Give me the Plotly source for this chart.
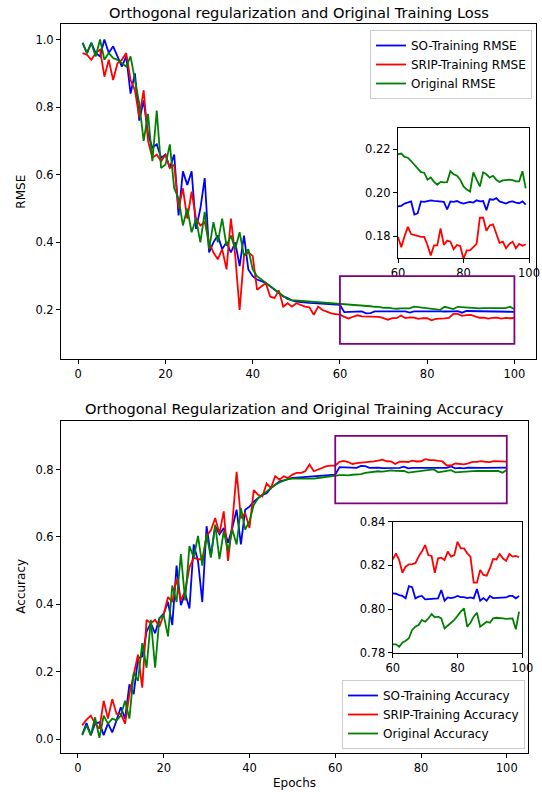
import plotly.graph_objects as go

# ---------------- data ----------------
epochs = list(range(1, 101))

so_rmse = [0.99, 0.96, 0.99, 0.96, 0.95, 1.00, 0.96, 0.98, 0.95, 0.92,
           0.95, 0.84, 0.90, 0.76, 0.82, 0.72, 0.68, 0.69, 0.65, 0.66,
           0.62, 0.66, 0.48, 0.61, 0.57, 0.61, 0.44, 0.50, 0.59, 0.37,
           0.40, 0.42, 0.38, 0.40, 0.37, 0.40, 0.33, 0.42, 0.32, 0.30,
           0.29, 0.285, 0.28, 0.27, 0.26, 0.25, 0.24, 0.235, 0.228, 0.225,
           0.223, 0.222, 0.221, 0.220, 0.219, 0.218, 0.217, 0.217, 0.216, 0.215,
           0.1937, 0.194, 0.195, 0.1955, 0.196, 0.190, 0.1905, 0.196, 0.1958, 0.1962,
           0.1965, 0.1963, 0.1962, 0.196, 0.1958, 0.1924, 0.196, 0.1958, 0.1962, 0.1955,
           0.195, 0.1955, 0.1958, 0.1955, 0.1965, 0.196, 0.1962, 0.192, 0.197, 0.1968,
           0.1975, 0.196, 0.1955, 0.195, 0.1958, 0.196, 0.1955, 0.1952, 0.196, 0.1945]

srip_rmse = [0.96, 0.955, 0.94, 0.96, 0.97, 0.89, 0.94, 0.88, 0.93, 0.94,
             0.96, 0.88, 0.85, 0.77, 0.85, 0.70, 0.65, 0.66, 0.64, 0.66,
             0.62, 0.63, 0.50, 0.56, 0.47, 0.55, 0.47, 0.45, 0.46, 0.40,
             0.37, 0.35, 0.38, 0.32, 0.47, 0.36, 0.20, 0.36, 0.37, 0.36,
             0.26, 0.27, 0.28, 0.24, 0.235, 0.258, 0.21, 0.22, 0.21, 0.22,
             0.215, 0.21, 0.208, 0.186, 0.21, 0.20, 0.195, 0.19, 0.188, 0.186,
             0.1797, 0.175, 0.180, 0.1843, 0.181, 0.1805, 0.180, 0.1797, 0.1797, 0.176,
             0.1712, 0.1758, 0.1758, 0.1836, 0.176, 0.178, 0.1775, 0.174, 0.176, 0.1755,
             0.1696, 0.1735, 0.1735, 0.175, 0.1765, 0.1885, 0.1885, 0.1825, 0.185, 0.1855,
             0.181, 0.177, 0.1775, 0.1745, 0.1765, 0.1775, 0.1745, 0.1765, 0.1756, 0.1763]

orig_rmse = [0.99, 0.96, 0.99, 0.95, 1.00, 0.94, 0.96, 0.945, 0.94, 0.93,
             0.92, 0.95, 0.88, 0.81, 0.70, 0.78, 0.64, 0.79, 0.62, 0.63,
             0.69, 0.56, 0.53, 0.45, 0.50, 0.43, 0.47, 0.40, 0.49, 0.38,
             0.46, 0.40, 0.47, 0.39, 0.42, 0.38, 0.43, 0.36, 0.38, 0.32,
             0.30, 0.29, 0.28, 0.27, 0.26, 0.25, 0.24, 0.232, 0.229, 0.228,
             0.228, 0.228, 0.227, 0.226, 0.225, 0.224, 0.223, 0.222, 0.221, 0.220,
             0.2177, 0.218, 0.2165, 0.2161, 0.2146, 0.213, 0.211, 0.2095, 0.2092, 0.206,
             0.207, 0.205, 0.2037, 0.205, 0.2048, 0.2049, 0.2099, 0.2085, 0.2078, 0.206,
             0.2029, 0.2015, 0.2006, 0.2094, 0.206, 0.2029, 0.2094, 0.2085, 0.207, 0.2078,
             0.206, 0.205, 0.2057, 0.206, 0.206, 0.2058, 0.2052, 0.2052, 0.2099, 0.202]

so_acc = [0.014, 0.048, 0.012, 0.047, 0.05, 0.012, 0.047, 0.02, 0.056, 0.095,
          0.061, 0.163, 0.134, 0.24, 0.246, 0.319, 0.344, 0.314, 0.359, 0.373,
          0.407, 0.339, 0.515, 0.398, 0.432, 0.388, 0.578, 0.529, 0.407, 0.632,
          0.544, 0.632, 0.608, 0.627, 0.583, 0.627, 0.681, 0.578, 0.681, 0.69,
          0.705, 0.715, 0.725, 0.73, 0.745, 0.755, 0.765, 0.768, 0.772, 0.775,
          0.776, 0.777, 0.777, 0.778, 0.779, 0.780, 0.781, 0.782, 0.783, 0.785,
          0.8072, 0.807, 0.8064, 0.806, 0.8049, 0.8105, 0.810, 0.8049, 0.8057, 0.806,
          0.8044, 0.8045, 0.8045, 0.8047, 0.8049, 0.8087, 0.8038, 0.8053, 0.805, 0.8053,
          0.806, 0.8055, 0.8055, 0.805, 0.8053, 0.8049, 0.8092, 0.8038, 0.805, 0.8038,
          0.806, 0.805, 0.805, 0.805, 0.8053, 0.8053, 0.806, 0.806, 0.8049, 0.806]

srip_acc = [0.041, 0.058, 0.07, 0.047, 0.031, 0.114, 0.061, 0.119, 0.075, 0.075,
            0.046, 0.134, 0.192, 0.251, 0.153, 0.354, 0.344, 0.354, 0.334, 0.37,
            0.422, 0.407, 0.476, 0.412, 0.44, 0.510, 0.539, 0.534, 0.534, 0.603,
            0.62, 0.656, 0.61, 0.676, 0.529, 0.642, 0.793, 0.656, 0.671, 0.627,
            0.739, 0.725, 0.72, 0.759, 0.745, 0.78, 0.77, 0.78, 0.775, 0.785,
            0.79, 0.79, 0.795, 0.815, 0.795, 0.80, 0.806, 0.81, 0.812, 0.812,
            0.8227, 0.8255, 0.8224, 0.8166, 0.8194, 0.8205, 0.8206, 0.821, 0.824, 0.8263,
            0.8293, 0.8247, 0.8243, 0.8166, 0.8232, 0.8235, 0.8224, 0.8263, 0.824, 0.8247,
            0.8308, 0.8278, 0.8278, 0.8255, 0.824, 0.8121, 0.8121, 0.8179, 0.8156, 0.8153,
            0.8186, 0.8229, 0.8227, 0.8252, 0.8232, 0.8221, 0.8252, 0.824, 0.8243, 0.8237]

orig_acc = [0.012, 0.041, 0.012, 0.065, 0.004, 0.07, 0.046, 0.061, 0.056, 0.07,
            0.114, 0.061, 0.197, 0.173, 0.285, 0.212, 0.354, 0.212, 0.359, 0.368,
            0.305, 0.456, 0.407, 0.549, 0.412, 0.573, 0.539, 0.603, 0.515, 0.608,
            0.539, 0.637, 0.534, 0.617, 0.558, 0.622, 0.578, 0.686, 0.622, 0.647,
            0.695, 0.715, 0.725, 0.735, 0.745, 0.755, 0.762, 0.768, 0.772, 0.773,
            0.773, 0.773, 0.772, 0.772, 0.773, 0.775, 0.777, 0.779, 0.780, 0.782,
            0.7838, 0.7838, 0.7827, 0.7846, 0.7855, 0.7866, 0.7904, 0.7919, 0.7927, 0.795,
            0.7942, 0.7957, 0.7977, 0.7962, 0.7965, 0.7957, 0.7911, 0.7922, 0.7937, 0.795,
            0.7972, 0.7988, 0.8003, 0.7919, 0.7937, 0.7965, 0.7983, 0.7919, 0.7930, 0.7942,
            0.7937, 0.7957, 0.7960, 0.7957, 0.7957, 0.7955, 0.7955, 0.7957, 0.7907, 0.7988]

# inset: epochs 60..99 plotted against values from index 60 onward
inset_epochs = epochs[59:99]
inset_start = 60

x_ticks = [0, 20, 40, 60, 80, 100]
rmse_ticks = [0.2, 0.4, 0.6, 0.8, 1.0]
acc_ticks = [0.0, 0.2, 0.4, 0.6, 0.8]
rmse_inset_ticks = [0.18, 0.20, 0.22]
acc_inset_ticks = [0.78, 0.80, 0.82, 0.84]
inset_x_ticks = [60, 80, 100]

rmse_zoom_box = (60, 100, 0.1, 0.3)
acc_zoom_box = (60, 100, 0.7, 0.9)

top_names = ["SO-Training RMSE", "SRIP-Training RMSE", "Original RMSE"]
bot_names = ["SO-Training Accuracy", "SRIP-Training Accuracy", "Original Accuracy"]
colors = ["#0000ff", "#ff0000", "#008000"]

# ---------------- layout helpers ----------------
W, H = 542, 792
FONT = "DejaVu Sans"


def fx(p):
    return p / W


def fy(p):
    return 1 - p / H


fig = go.Figure()

top_series = [so_rmse, srip_rmse, orig_rmse]
bot_series = [so_acc, srip_acc, orig_acc]
LW = 1.8

for name, ys, c in zip(top_names, top_series, colors):
    fig.add_trace(go.Scatter(x=epochs, y=ys, mode="lines", name=name,
                             line=dict(color=c, width=LW),
                             xaxis="x", yaxis="y", legend="legend"))
for name, ys, c in zip(bot_names, bot_series, colors):
    fig.add_trace(go.Scatter(x=epochs, y=ys, mode="lines", name=name,
                             line=dict(color=c, width=LW),
                             xaxis="x2", yaxis="y2", legend="legend2"))
for ys, c in zip(top_series, colors):
    fig.add_trace(go.Scatter(x=inset_epochs, y=ys[inset_start:], mode="lines",
                             line=dict(color=c, width=LW), showlegend=False,
                             xaxis="x3", yaxis="y3"))
for ys, c in zip(bot_series, colors):
    fig.add_trace(go.Scatter(x=inset_epochs, y=ys[inset_start:], mode="lines",
                             line=dict(color=c, width=LW), showlegend=False,
                             xaxis="x4", yaxis="y4"))

tickfont = dict(family=FONT, size=11.5, color="#000000")


def ax(**kw):
    d = dict(showline=True, linecolor="black", linewidth=1, mirror=True,
             ticks="outside", ticklen=4, tickwidth=1, tickcolor="black",
             showgrid=False, zeroline=False, tickfont=tickfont, automargin=False)
    d.update(kw)
    return d


LEG_FONT = dict(family=FONT, size=12, color="black")

fig.update_layout(
    width=W, height=H,
    margin=dict(l=0, r=0, t=0, b=0),
    paper_bgcolor="white", plot_bgcolor="white",
    font=dict(family=FONT, size=11.5, color="black"),
    xaxis=ax(domain=[fx(61), fx(536)], range=[-3.95, 104.95],
             tickvals=x_ticks, anchor="y"),
    yaxis=ax(domain=[fy(359), fy(24.3)], range=[0.055, 1.045],
             tickvals=rmse_ticks, tickformat=".1f", anchor="x"),
    xaxis2=ax(domain=[fx(61), fx(528)], range=[-3.95, 104.95],
              tickvals=x_ticks, anchor="y2"),
    yaxis2=ax(domain=[fy(752.7), fy(420.7)], range=[-0.04, 0.945],
              tickvals=acc_ticks, tickformat=".1f", anchor="x2"),
    xaxis3=ax(domain=[fx(398), fx(529)], range=[60, 100],
              tickvals=inset_x_ticks, anchor="y3"),
    yaxis3=ax(domain=[fy(258), fy(127.5)], range=[0.170, 0.230],
              tickvals=rmse_inset_ticks, tickformat=".2f", anchor="x3"),
    xaxis4=ax(domain=[fx(392.7), fx(522.3)], range=[60, 100],
              tickvals=inset_x_ticks, anchor="y4"),
    yaxis4=ax(domain=[fy(652.7), fy(521.7)], range=[0.78, 0.84],
              tickvals=acc_inset_ticks, tickformat=".2f", anchor="x4"),
    legend=dict(x=fx(532), y=fy(30), xanchor="right", yanchor="top",
                bgcolor="rgba(255,255,255,0.85)", bordercolor="#cccccc",
                borderwidth=1, font=LEG_FONT,
                tracegroupgap=0, itemwidth=30),
    legend2=dict(x=fx(525), y=fy(749), xanchor="right", yanchor="bottom",
                 bgcolor="rgba(255,255,255,0.85)", bordercolor="#cccccc",
                 borderwidth=1, font=LEG_FONT,
                 tracegroupgap=0, itemwidth=30),
)

# zoom rectangles
for (x0, x1, y0, y1), xr, yr in [(rmse_zoom_box, "x", "y"), (acc_zoom_box, "x2", "y2")]:
    fig.add_shape(type="rect", xref=xr, yref=yr, x0=x0, x1=x1, y0=y0, y1=y1,
                  line=dict(color="#800080", width=1.8), fillcolor="rgba(0,0,0,0)")

# titles & axis labels
ann = [
    dict(text="Orthogonal regularization and Original Training Loss",
         x=fx(298.5), y=fy(12.5), size=14.6),
    dict(text="Orthogonal Regularization and Original Training Accuracy",
         x=fx(294.5), y=fy(408), size=14.6),
    dict(text="Epochs", x=fx(294.5), y=fy(783), size=12),
]
for a in ann:
    fig.add_annotation(text=a["text"], x=a["x"], y=a["y"], xref="paper", yref="paper",
                       xanchor="center", yanchor="middle", showarrow=False,
                       font=dict(family=FONT, size=a["size"], color="black"))
for t, yc in [("RMSE", (24.3 + 359) / 2), ("Accuracy", (420.7 + 752.7) / 2)]:
    fig.add_annotation(text=t, x=fx(21), y=fy(yc), xref="paper", yref="paper",
                       xanchor="center", yanchor="middle", showarrow=False,
                       textangle=-90, font=dict(family=FONT, size=12, color="black"))

fig.write_html("out.html")
